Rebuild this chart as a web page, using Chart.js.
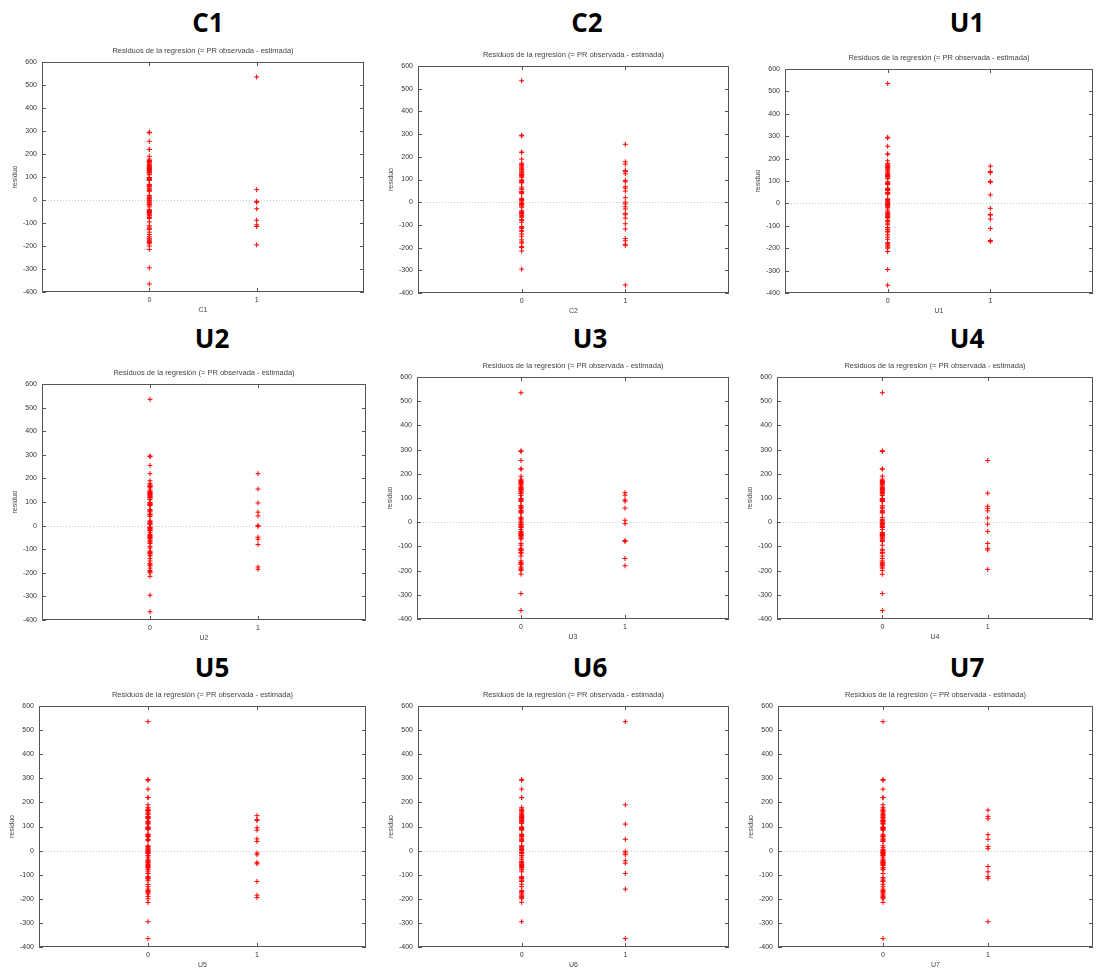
<!DOCTYPE html>
<html>
<head>
<meta charset="utf-8">
<script src="https://cdn.jsdelivr.net/npm/chart.js@4/dist/chart.umd.min.js"></script>
<style>
  body { margin: 0; background: #fff; }
  #page { position: relative; width: 1098px; height: 976px; overflow: hidden; }
  canvas { position: absolute; }
  .big { position: absolute; transform: translate(-50%, -50%); font: 700 26px "Open Sans", sans-serif; color: #000; white-space: nowrap; }
</style>
</head>
<body>
<div id="page"></div>
<script>
// all residuals (PR observada - estimada)
const residuos = [
  535,
  295, 292,
  255,
  220, 220,
  190,
  178, 172, 168, 166, 165, 160,
  155, 150, 145, 142, 140, 137, 135, 132, 128, 125, 122, 120, 118, 112, 110,
  98, 96, 95, 92, 90, 87, 85,
  68, 66, 62, 58, 57,
  49, 47, 45, 41, 38,
  20, 17, 12, 8, 5, 0, -3, -6, -8, -10, -12, -17, -20, -22,
  -30, -38, -42, -46, -49, -50, -52, -55, -58, -62, -66, -70, -76, -80, -88, -95,
  -108, -112, -115, -118, -125, -128, -140, -150, -160, -166, -170, -175, -180, -185, -190, -195, -200, -215,
  -295, -365
];

// residuals of the observations where the dummy = 1
const C1 = [535, 45, -6, -10, -38, -88, -108, -115, -195];
const C2 = [255, 178, 168, 140, 135, 125, 96, 90, 68, 62, 49, 20, 0, -8, -20, -30, -49, -55, -70, -95, -118, -160, -170, -185, -190, -365];
const U1 = [166, 142, 137, 98, 95, 38, -22, -52, -50, -70, -112, -166, -170];
const U2 = [220, 155, 96, 57, 41, 0, -3, -49, -58, -80, -175, -185];
const U3 = [122, 112, 92, 87, 58, 8, -6, -76, -80, -150, -180];
const U4 = [255, 120, 66, 57, 47, 17, -8, -38, -88, -108, -115, -195];
const U5 = [145, 128, 125, 95, 85, 49, 38, -10, -17, -49, -55, -128, -185, -195];
const U6 = [535, 190, 110, 47, -3, -10, -17, -42, -52, -95, -160, -365];
const U7 = [168, 142, 132, 66, 47, 17, 8, -66, -88, -108, -115, -295];

const variables = ['C1', 'C2', 'U1', 'U2', 'U3', 'U4', 'U5', 'U6', 'U7'];
const grupos = [C1, C2, U1, U2, U3, U4, U5, U6, U7];
const xTicks = [0, 1];
const yMin = -400, yMax = 600, yStep = 100;

// plot box of each panel on the page
const boxes = [
  { l: 42,  t: 62,  r: 368,  b: 292, cx: 208, cy: 22 },
  { l: 418, t: 66,  r: 733,  b: 293, cx: 587, cy: 22 },
  { l: 785, t: 69,  r: 1097, b: 293, cx: 967, cy: 22 },
  { l: 42,  t: 384, r: 370,  b: 620, cx: 212, cy: 338 },
  { l: 417, t: 377, r: 733,  b: 619, cx: 590, cy: 338 },
  { l: 777, t: 377, r: 1097, b: 619, cx: 967, cy: 338 },
  { l: 39,  t: 706, r: 370,  b: 947, cx: 212, cy: 667 },
  { l: 418, t: 706, r: 733,  b: 947, cx: 590, cy: 667 },
  { l: 778, t: 706, r: 1097, b: 947, cx: 967, cy: 667 }
];

const small = { family: '"Liberation Sans", Arial, sans-serif', size: 7, weight: 'normal' };
const GUT = 36, TOP = 16, BOT = 24;

function ceros(grupo) {
  const rest = residuos.slice();
  grupo.forEach(v => { const i = rest.indexOf(v); if (i >= 0) rest.splice(i, 1); });
  return rest;
}

const frame = {
  id: 'frame',
  beforeDatasetsDraw(chart) {
    const { ctx, chartArea: a, scales: { x, y } } = chart;
    ctx.save();
    // dotted zero line
    ctx.strokeStyle = '#c8c8c8';
    ctx.lineWidth = 1;
    ctx.setLineDash([1, 2]);
    const y0 = Math.round(y.getPixelForValue(0)) + 0.5;
    ctx.beginPath(); ctx.moveTo(a.left, y0); ctx.lineTo(a.right, y0); ctx.stroke();
    ctx.setLineDash([]);
    // border and inward ticks
    ctx.strokeStyle = '#555';
    ctx.strokeRect(a.left + 0.5, a.top + 0.5, a.right - a.left - 1, a.bottom - a.top - 1);
    ctx.beginPath();
    y.ticks.forEach(t => {
      const p = Math.round(y.getPixelForValue(t.value)) + 0.5;
      ctx.moveTo(a.left, p); ctx.lineTo(a.left + 4, p);
      ctx.moveTo(a.right, p); ctx.lineTo(a.right - 4, p);
    });
    x.ticks.forEach(t => {
      const p = Math.round(x.getPixelForValue(t.value)) + 0.5;
      ctx.moveTo(p, a.top); ctx.lineTo(p, a.top + 4);
      ctx.moveTo(p, a.bottom); ctx.lineTo(p, a.bottom - 4);
    });
    ctx.stroke();
    ctx.restore();
  }
};

const page = document.getElementById('page');

variables.forEach((name, i) => {
  const b = boxes[i];
  const label = document.createElement('div');
  label.className = 'big';
  label.style.left = b.cx + 'px';
  label.style.top = b.cy + 'px';
  label.textContent = name;
  page.appendChild(label);

  const canvas = document.createElement('canvas');
  const w = b.r - b.l + GUT + 1, h = b.b - b.t + TOP + BOT;
  canvas.width = w; canvas.height = h;
  canvas.style.width = w + 'px'; canvas.style.height = h + 'px';
  canvas.style.left = (b.l - GUT) + 'px';
  canvas.style.top = (b.t - TOP) + 'px';
  page.appendChild(canvas);

  const pts = ceros(grupos[i]).map(v => ({ x: 0, y: v }))
    .concat(grupos[i].map(v => ({ x: 1, y: v })));

  new Chart(canvas.getContext('2d'), {
    type: 'scatter',
    data: {
      datasets: [{
        data: pts,
        pointStyle: 'cross',
        radius: 2.5,
        borderWidth: 1,
        borderColor: '#ff0000',
        backgroundColor: '#ff0000'
      }]
    },
    options: {
      responsive: false,
      animation: false,
      layout: { padding: { right: 1 } },
      plugins: {
        legend: { display: false },
        tooltip: { enabled: false },
        title: {
          display: true,
          fullSize: false,
          text: 'Residuos de la regresión (= PR observada - estimada)',
          font: { family: small.family, size: 7.5, weight: 'normal' },
          color: '#444',
          padding: { top: 0.4, bottom: 6.6 }
        }
      },
      scales: {
        x: {
          type: 'linear',
          min: -1, max: 2,
          afterBuildTicks: s => { s.ticks = xTicks.map(v => ({ value: v })); },
          afterFit: s => { s.height = BOT; s.paddingLeft = 0; s.paddingRight = 0; },
          ticks: { font: small, color: '#333', padding: 4 },
          grid: { display: false, drawTicks: false },
          border: { display: false },
          title: { display: true, text: name, font: small, color: '#444', padding: { top: 0, bottom: 2 } }
        },
        y: {
          min: yMin, max: yMax,
          afterFit: s => { s.width = GUT; },
          ticks: { stepSize: yStep, font: small, color: '#333', padding: 5 },
          grid: { display: false, drawTicks: false },
          border: { display: false },
          title: { display: true, text: 'residuo', font: small, color: '#444', padding: { top: 5, bottom: 0 } }
        }
      }
    },
    plugins: [frame]
  });
});
</script>
</body>
</html>
